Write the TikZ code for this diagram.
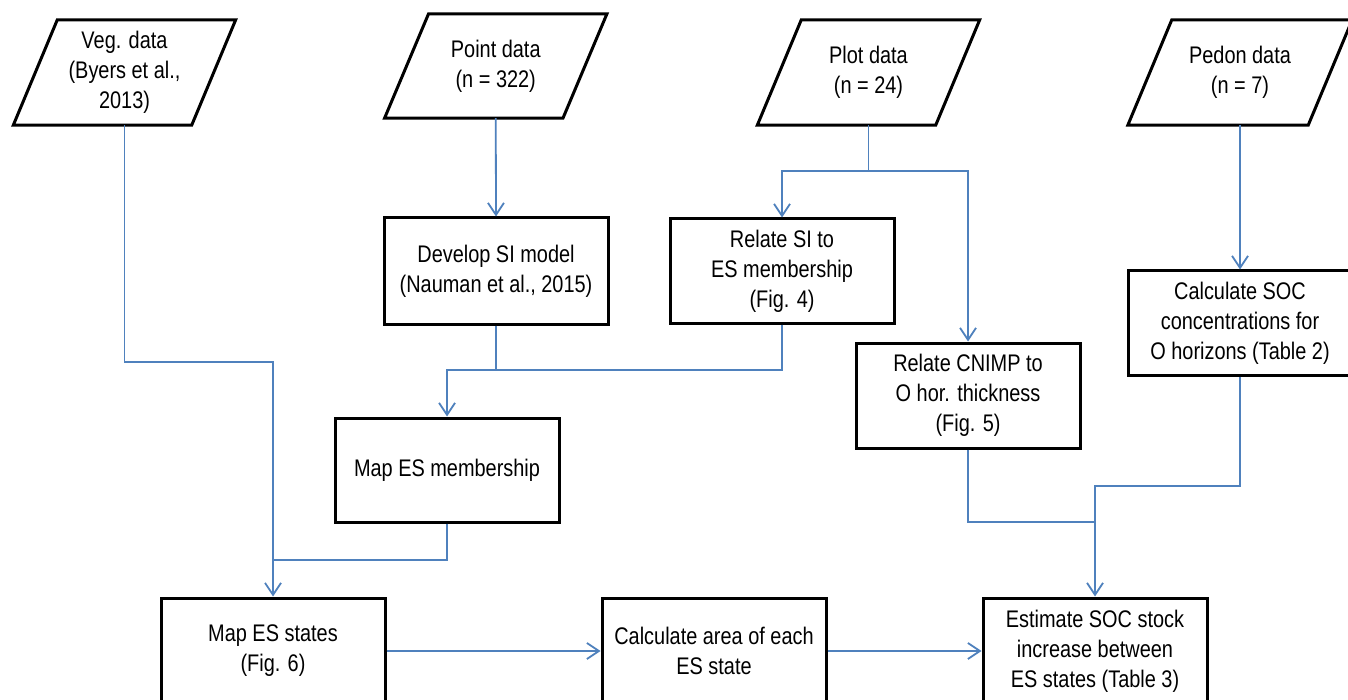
\documentclass[tikz,border=0pt]{standalone}
\usepackage{fontspec}
\setmainfont[FakeStretch=0.83]{Liberation Sans}
\usetikzlibrary{arrows.meta}
\definecolor{flowblue}{RGB}{79,129,189}
\tikzset{
  textfont/.style={font=\fontsize{24}{30}\selectfont, text=black},
  procbox/.style={draw=black, line width=3pt, minimum width=224pt, minimum height=105pt, inner sep=0pt, align=center, textfont},
  databox/.style={minimum width=178pt, minimum height=105pt, inner sep=0pt, align=center, textfont},
  paraline/.style={draw=black, line width=3pt, line join=miter},
  flow/.style={draw=flowblue, line width=1.8pt},
  flowarrow/.style={flow, -{Straight Barb[length=12pt,width=16pt]}},
}
\newcommand{\dataoutline}[1]{\path[paraline] ([xshift=22pt]#1.north west) -- ([xshift=22pt]#1.north east) -- ([xshift=-22pt]#1.south east) -- ([xshift=-22pt]#1.south west) -- cycle;}
\begin{document}
\begin{tikzpicture}[x=1pt, y=-1pt]
\useasboundingbox (0,0) rectangle (1348,700);
\fill[white] (0,0) rectangle (1348,700);

% data (parallelogram) nodes
\node[databox] (veg) at (124.5,72.5) {Veg. data\\(Byers et al.,\\2013)};
\node[databox, minimum height=104pt] (point) at (495.75,66) {Point data\\(n = 322)};
\node[databox] (plot) at (868.5,72.5) {Plot data\\(n = 24)};
\node[databox, minimum width=180pt] (pedon) at (1240,72.5) {Pedon data\\(n = 7)};
\dataoutline{veg}
\dataoutline{point}
\dataoutline{plot}
\dataoutline{pedon}

% process boxes
\node[procbox, minimum height=106pt] (dev) at (496,271) {Develop SI model\\(Nauman et al., 2015)};
\node[procbox, minimum height=104pt] (relsi) at (782,271) {Relate SI to\\ES membership\\(Fig. 4)};
\node[procbox] (cnimp) at (968,395.5) {Relate CNIMP to\\O hor. thickness\\(Fig. 5)};
\node[procbox, minimum height=104pt] (soc) at (1240,323) {Calculate SOC\\concentrations for\\O horizons (Table 2)};
\node[procbox, minimum height=104pt] (mapmem) at (447,470) {Map ES membership};
\node[procbox, minimum height=106pt] (mapst) at (273,651) {Map ES states\\(Fig. 6)};
\node[procbox, minimum height=106pt] (calc) at (714,651) {Calculate area of each\\ES state};
\node[procbox, minimum height=106pt] (est) at (1095,651) {Estimate SOC stock\\increase between\\ES states (Table 3)};

% junction coordinates
\coordinate (vegA) at (124.5,362);
\coordinate (vegB) at (273,362);
\coordinate (memJ) at (273,560);
\coordinate (memA) at (447,560);
\coordinate (plotJ) at (868.5,171);
\coordinate (plotL) at (782,171);
\coordinate (plotR) at (968,171);
\coordinate (devJ) at (496,370);
\coordinate (devL) at (447,370);
\coordinate (relJ) at (782,370);
\coordinate (cnA) at (968,522);
\coordinate (estJ) at (1095,522);
\coordinate (socA) at (1240,486);
\coordinate (socB) at (1095,486);

% connectors
\draw[flowarrow] (veg.south) -- (vegA) -- (vegB) -- (mapst.north);
\draw[flow] (mapmem.south) -- (memA) -- (memJ);
\draw[flowarrow] (point.south) -- (dev.north);
\draw[flow] (plot.south) -- (plotJ);
\draw[flowarrow] (plotJ) -- (plotL) -- (relsi.north);
\draw[flowarrow] (plotJ) -- (plotR) -- (cnimp.north);
\draw[flowarrow] (dev.south) -- (devJ) -- (devL) -- (mapmem.north);
\draw[flow] (relsi.south) -- (relJ) -- (devJ);
\draw[flowarrow] (pedon.south) -- (soc.north);
\draw[flowarrow] (cnimp.south) -- (cnA) -- (estJ) -- (est.north);
\draw[flow] (soc.south) -- (socA) -- (socB) -- (estJ);
\draw[flowarrow] (mapst.east) -- (calc.west);
\draw[flowarrow] (calc.east) -- (est.west);
\end{tikzpicture}
\end{document}
